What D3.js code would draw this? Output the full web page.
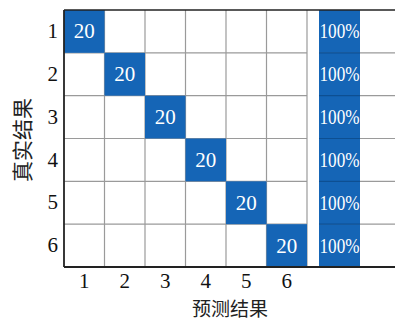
<!DOCTYPE html>
<html><head><meta charset="utf-8">
<script src="https://cdn.jsdelivr.net/npm/d3@7"></script>
<style>html,body{margin:0;padding:0;background:#fff;}svg{display:block;}</style>
</head><body>
<svg id="chart" width="395" height="320"></svg>
<script>
const classes = ["1","2","3","4","5","6"];
const row1 = [20,0,0,0,0,0];
const row2 = [0,20,0,0,0,0];
const row3 = [0,0,20,0,0,0];
const row4 = [0,0,0,20,0,0];
const row5 = [0,0,0,0,20,0];
const row6 = [0,0,0,0,0,20];
const accuracy = [100,100,100,100,100,100];
const xTitle = "预测结果";
const yTitle = "真实结果";

const matrix = [row1,row2,row3,row4,row5,row6];
const svg = d3.select("#chart");
const L = 64, R = 307, T = 10, B = 267, accL = 319, accR = 360, W = 395;
const blue = "#1565b6";
const serif = "'Liberation Serif','Times New Roman',serif";
const cjk = "'Noto Sans CJK SC','Noto Sans CJK JP',sans-serif";

const x = d3.scaleBand().domain(classes).range([L, R]);
const y = d3.scaleBand().domain(classes).range([T, B]);
const xa = d3.scaleBand().domain(["acc"]).range([accL, accR]);

const cells = [];
matrix.forEach((r,i)=>r.forEach((v,j)=>cells.push({t:classes[i], p:classes[j], v})));

// grid lines
const g = svg.append("g");
classes.slice(1).forEach(c=>{
  g.append("line").attr("x1",L).attr("x2",R).attr("y1",y(c)).attr("y2",y(c)).attr("stroke","#9a9a9a").attr("stroke-width",1.2);
  g.append("line").attr("x1",accR).attr("x2",W).attr("y1",y(c)).attr("y2",y(c)).attr("stroke","#9a9a9a").attr("stroke-width",1.2);
  g.append("line").attr("x1",x(c)).attr("x2",x(c)).attr("y1",T).attr("y2",B).attr("stroke","#9a9a9a").attr("stroke-width",1.2);
});
g.append("line").attr("x1",R).attr("x2",R).attr("y1",T).attr("y2",B).attr("stroke","#9a9a9a").attr("stroke-width",1.2);

// cells
svg.append("g").selectAll("rect").data(cells.filter(d=>d.v>0)).join("rect")
  .attr("x",d=>x(d.p)).attr("y",d=>y(d.t)).attr("width",x.bandwidth()).attr("height",y.bandwidth())
  .attr("fill",blue);
svg.append("g").selectAll("text").data(cells.filter(d=>d.v>0)).join("text")
  .attr("x",d=>x(d.p)+x.bandwidth()/2).attr("y",d=>y(d.t)+y.bandwidth()/2+7)
  .attr("text-anchor","middle").attr("fill","#fff").attr("font-family",serif).attr("font-size",21)
  .text(d=>d.v);

// accuracy column
const accData = accuracy.map((v,i)=>({t:classes[i], v}));
svg.append("g").selectAll("rect").data(accData).join("rect")
  .attr("x",xa("acc")).attr("y",d=>y(d.t)).attr("width",xa.bandwidth()).attr("height",y.bandwidth())
  .attr("fill",blue);
classes.slice(1).forEach(c=>{
  svg.append("line").attr("x1",accL).attr("x2",accR).attr("y1",y(c)).attr("y2",y(c)).attr("stroke","#0d4f92").attr("stroke-width",1.2);
});
svg.append("g").selectAll("text").data(accData).join("text")
  .attr("x",xa("acc")+xa.bandwidth()/2).attr("y",d=>y(d.t)+y.bandwidth()/2+7)
  .attr("text-anchor","middle").attr("fill","#fff").attr("font-family",serif).attr("font-size",20)
  .attr("textLength",40).attr("lengthAdjust","spacingAndGlyphs")
  .text(d=>d.v+"%");

// borders
svg.append("line").attr("x1",L).attr("x2",W).attr("y1",T).attr("y2",T).attr("stroke","#222").attr("stroke-width",1.6);
svg.append("line").attr("x1",L).attr("x2",W).attr("y1",B).attr("y2",B).attr("stroke","#222").attr("stroke-width",1.8);
svg.append("line").attr("x1",L).attr("x2",L).attr("y1",T).attr("y2",B).attr("stroke","#222").attr("stroke-width",1.8);

// axes (labels only)
const xAxis = svg.append("g").attr("transform",`translate(0,${B})`).call(d3.axisBottom(x).tickSize(0).tickPadding(6));
xAxis.select(".domain").remove();
xAxis.selectAll("text").attr("font-family",serif).attr("font-size",21).attr("fill","#111").attr("dy","0.71em");
const yAxis = svg.append("g").attr("transform",`translate(${L},0)`).call(d3.axisLeft(y).tickSize(0).tickPadding(6));
yAxis.select(".domain").remove();
yAxis.selectAll("text").attr("font-family",serif).attr("font-size",21).attr("fill","#111");

// titles
svg.append("text").attr("x",230).attr("y",316).attr("text-anchor","middle")
  .attr("font-family",cjk).attr("font-size",19).attr("fill","#222").text(xTitle);
svg.append("text").attr("transform","translate(30,140) rotate(-90)").attr("text-anchor","middle")
  .attr("font-family",cjk).attr("font-size",21).attr("fill","#222").text(yTitle);
</script>
</body></html>
